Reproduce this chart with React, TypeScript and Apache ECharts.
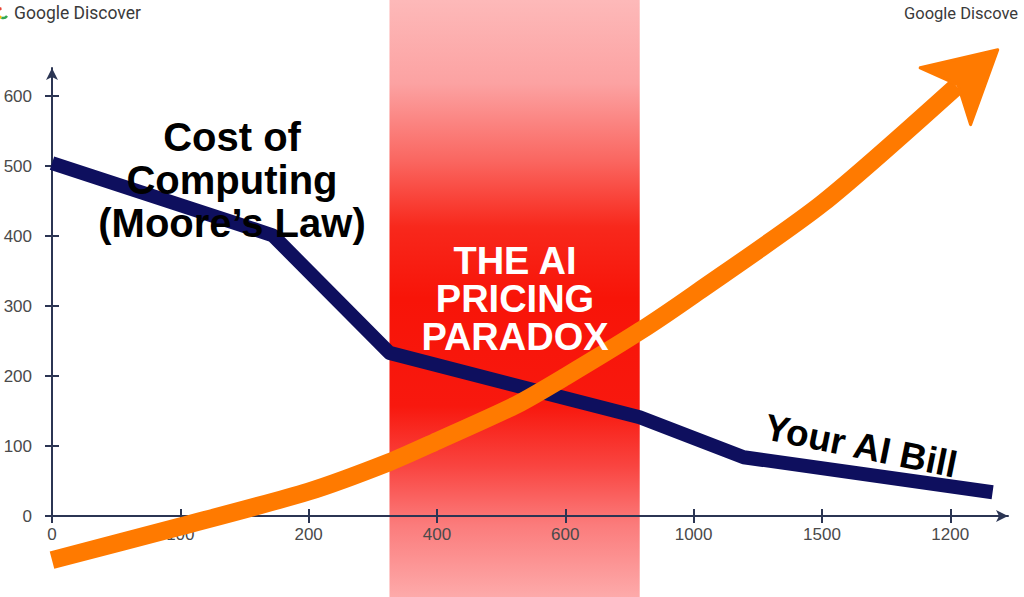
import React, { useEffect, useRef } from "react";
import * as echarts from "echarts";

// ---- data ----
const xTickLabels = ["0", "100", "200", "400", "600", "1000", "1500", "1200"];
const xTickPositions = [0, 1, 2, 3, 4, 5, 6, 7];
const yTickValues = [0, 100, 200, 300, 400, 500, 600];

// navy line: cost of computing
const computeX = [0, 1.72, 2.63, 4.58, 5.39, 7.33];
const computeY = [504, 401, 233, 141, 84, 34];

// orange arrow: your AI bill
const billX = [0, 1, 2, 2.63, 3, 3.62, 4, 4.58, 5, 6, 7.05];
const billY = [-63, -15, 35, 77, 107, 159, 199, 264, 316, 446, 614];
const billArrowTip = [7.37, 666];

// red "paradox" band (x range in axis units)
const paradoxBand = [2.63, 4.58];

const AXIS_COLOR = "#2B3553";
const NAVY = "#0E0F5E";
const ORANGE = "#FF7A00";

export default function App() {
  const ref = useRef<HTMLDivElement>(null);

  useEffect(() => {
    document.body.style.margin = "0";
    const chart = echarts.init(ref.current!, undefined, { renderer: "svg" });

    const computeData = computeX.map((x, i) => [x, computeY[i]]);
    const billData = billX.map((x, i) => [x, billY[i]]);
    const lastBill = billData[billData.length - 1];

    const baseX = {
      type: "value",
      min: 0,
      max: 7.45,
      splitLine: { show: false },
      position: "bottom",
    };
    const baseY = {
      type: "value",
      min: 0,
      max: 640,
      splitLine: { show: false },
      position: "left",
    };
    const textBase = {
      fontFamily: "Liberation Sans",
      fontWeight: "bold",
      align: "center",
      verticalAlign: "middle",
    };

    chart.setOption({
      animation: false,
      backgroundColor: "#ffffff",
      grid: { left: 52, right: 16, top: 68, bottom: 81 },
      xAxis: [
        {
          ...baseX,
          z: 2,
          axisLine: {
            show: true,
            onZero: true,
            lineStyle: { color: AXIS_COLOR, width: 2 },
            symbol: ["none", "arrow"],
            symbolSize: [9, 12],
          },
          axisTick: {
            show: true,
            length: 7,
            customValues: xTickPositions,
            lineStyle: { color: AXIS_COLOR, width: 2 },
          },
          axisLabel: {
            customValues: xTickPositions,
            formatter: (v: number) => xTickLabels[Math.round(v)] ?? "",
            color: "#4a4a4a",
            fontSize: 17,
            fontFamily: "Liberation Sans",
            margin: 10,
          },
        },
        {
          ...baseX,
          z: 2,
          axisLine: { show: false },
          axisTick: {
            show: true,
            inside: true,
            length: 7,
            customValues: xTickPositions,
            lineStyle: { color: AXIS_COLOR, width: 2 },
          },
          axisLabel: { show: false },
        },
      ],
      yAxis: [
        {
          ...baseY,
          z: 2,
          axisLine: {
            show: true,
            lineStyle: { color: AXIS_COLOR, width: 2 },
            symbol: ["none", "arrow"],
            symbolSize: [9, 12],
          },
          axisTick: {
            show: true,
            length: 7,
            customValues: yTickValues,
            lineStyle: { color: AXIS_COLOR, width: 2 },
          },
          axisLabel: {
            customValues: yTickValues,
            color: "#4a4a4a",
            fontSize: 17,
            fontFamily: "Liberation Sans",
            margin: 20,
          },
        },
        {
          ...baseY,
          z: 2,
          axisLine: { show: false },
          axisTick: {
            show: true,
            inside: true,
            length: 7,
            customValues: yTickValues,
            lineStyle: { color: AXIS_COLOR, width: 2 },
          },
          axisLabel: { show: false },
        },
      ],
      series: [
        {
          type: "custom",
          name: "Paradox",
          z: 1,
          clip: false,
          silent: true,
          data: [paradoxBand],
          encode: { x: [0, 1] },
          renderItem: (params: any, api: any) => {
            const x0 = api.coord([api.value(0), 0])[0];
            const x1 = api.coord([api.value(1), 0])[0];
            return {
              type: "rect",
              shape: { x: x0, y: 0, width: x1 - x0, height: api.getHeight() },
              style: {
                fill: new echarts.graphic.LinearGradient(0, 0, 0, 1, [
                  { offset: 0, color: "#FDB9B9" },
                  { offset: 0.14, color: "#FCA2A2" },
                  { offset: 0.27, color: "#FA6660" },
                  { offset: 0.38, color: "#F8281C" },
                  { offset: 0.5, color: "#F81408" },
                  { offset: 0.68, color: "#F8180E" },
                  { offset: 0.78, color: "#F94440" },
                  { offset: 0.88, color: "#FB7C7C" },
                  { offset: 1, color: "#FDAAAA" },
                ]),
              },
            };
          },
        },
        {
          type: "line",
          name: "Cost of Computing",
          z: 3,
          clip: false,
          symbol: "none",
          data: computeData,
          lineStyle: { color: NAVY, width: 14, cap: "butt", join: "round" },
        },
        {
          type: "line",
          name: "Your AI Bill",
          z: 4,
          clip: false,
          symbol: "none",
          smooth: 0.25,
          data: billData,
          itemStyle: { color: ORANGE },
          lineStyle: { color: ORANGE, width: 18, cap: "butt", join: "round" },
        },
        {
          type: "custom",
          name: "Your AI Bill arrow",
          z: 5,
          clip: false,
          silent: true,
          data: [[lastBill[0], lastBill[1], billArrowTip[0], billArrowTip[1]]],
          encode: { x: [0, 2], y: [1, 3] },
          renderItem: (params: any, api: any) => {
            const a = api.coord([api.value(0), api.value(1)]);
            const b = api.coord([api.value(2), api.value(3)]);
            const dx = b[0] - a[0];
            const dy = b[1] - a[1];
            const len = Math.sqrt(dx * dx + dy * dy) || 1;
            const ux = dx / len;
            const uy = dy / len;
            const nx = -uy;
            const ny = ux;
            const L = 70;
            const W = 38;
            const N = 17;
            const points = [
              [b[0], b[1]],
              [b[0] - L * ux + W * nx, b[1] - L * uy + W * ny],
              [b[0] - (L - N) * ux, b[1] - (L - N) * uy],
              [b[0] - L * ux - W * nx, b[1] - L * uy - W * ny],
            ];
            return {
              type: "polygon",
              shape: { points },
              style: { fill: ORANGE, stroke: ORANGE, lineWidth: 3, lineJoin: "round" },
            };
          },
        },
      ],
      graphic: [
        {
          type: "text",
          z: 100,
          x: 232,
          y: 180,
          style: {
            ...textBase,
            text: "Cost of\nComputing\n(Moore\u2019s Law)",
            fontSize: 40,
            lineHeight: 43,
            fill: "#000",
          },
        },
        {
          type: "text",
          z: 100,
          x: 515,
          y: 299,
          style: {
            ...textBase,
            text: "THE AI\nPRICING\nPARADOX",
            fontSize: 38,
            lineHeight: 38,
            fill: "#fff",
          },
        },
        {
          type: "text",
          z: 100,
          x: 861,
          y: 446,
          rotation: -0.2,
          style: {
            ...textBase,
            text: "Your AI Bill",
            fontSize: 37,
            fill: "#000",
          },
        },
        {
          type: "text",
          z: 100,
          x: 14,
          y: 13,
          style: {
            text: "Google Discover",
            fontFamily: "Roboto",
            fontSize: 17.5,
            fill: "#3a3a3a",
            verticalAlign: "middle",
          },
        },
        {
          type: "text",
          z: 100,
          x: 904,
          y: 13,
          style: {
            text: "Google Discove",
            fontFamily: "Roboto",
            fontSize: 16.5,
            fill: "#3a3a3a",
            verticalAlign: "middle",
          },
        },
        {
          type: "arc",
          z: 100,
          shape: { cx: 3, cy: 13, r: 5, startAngle: Math.PI * 0.9, endAngle: Math.PI * 1.4 },
          style: { stroke: "#EA4335", lineWidth: 2.5, fill: "none" },
        },
        {
          type: "arc",
          z: 100,
          shape: { cx: 3, cy: 13, r: 5, startAngle: Math.PI * 0.6, endAngle: Math.PI * 0.9 },
          style: { stroke: "#FBBC05", lineWidth: 2.5, fill: "none" },
        },
        {
          type: "arc",
          z: 100,
          shape: { cx: 3, cy: 13, r: 5, startAngle: Math.PI * 0.2, endAngle: Math.PI * 0.6 },
          style: { stroke: "#34A853", lineWidth: 2.5, fill: "none" },
        },
      ],
    });

    return () => chart.dispose();
  }, []);

  return <div ref={ref} style={{ width: 1024, height: 597 }} />;
}
